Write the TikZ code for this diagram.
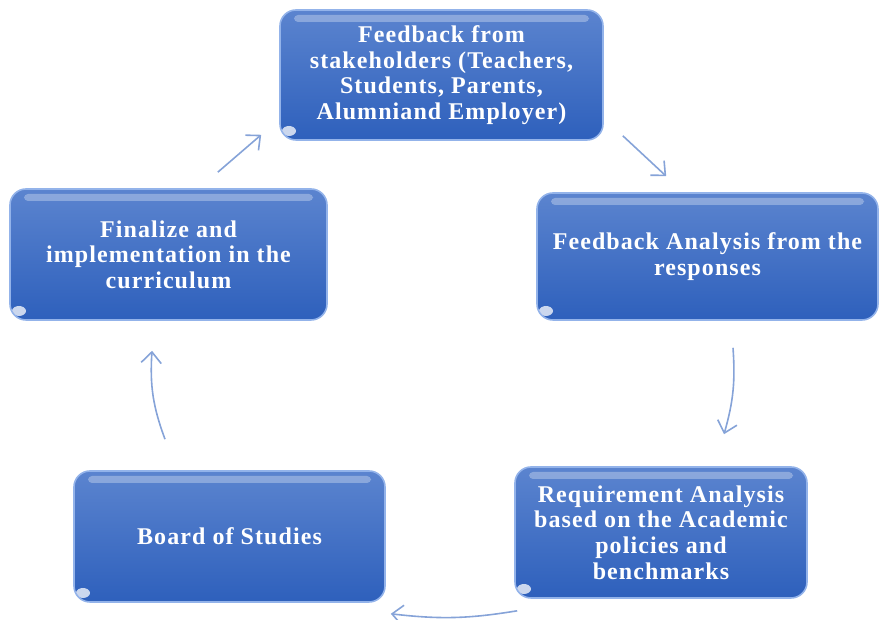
\documentclass[tikz,border=0pt]{standalone}
\usepackage{fontspec}
\setmainfont{Liberation Serif}
\usepackage{xcolor}
\usetikzlibrary{calc,arrows.meta}

\definecolor{boxtop}{HTML}{5B84CF}
\definecolor{boxbot}{HTML}{2E60BC}
\definecolor{boxrim}{HTML}{93B3EA}
\definecolor{arrowblue}{HTML}{86A3D8}

\tikzset{
  stepbox/.style={rounded corners=8pt, draw=boxrim, line width=0.8pt,
    top color=boxtop, bottom color=boxbot, text=white, align=center,
    font=\fontsize{12}{12.8}\selectfont\bfseries\addfontfeature{LetterSpace=4.5}, inner sep=2pt,
    path picture={
      \fill[white,opacity=0.3,rounded corners=2pt]
        ($(path picture bounding box.north west)+(7pt,-2.5pt)$) rectangle
        ($(path picture bounding box.north east)+(-7pt,-6pt)$);
      \fill[white,opacity=0.75]
        ($(path picture bounding box.south west)+(4.5pt,4.5pt)$) ellipse (3.5pt and 2.5pt);
    }},
  cycarrow/.style={draw=arrowblue, line width=0.8pt,
    -{Straight Barb[length=5.5pt,width=10pt]}}
}

\begin{document}
\begin{tikzpicture}[x=0.5pt,y=0.5pt]
    \useasboundingbox (0,0) rectangle (879,620);

    % Feedback from stakeholders
    \node[stepbox, minimum width=161.5pt, minimum height=65pt] (fb) at (441.5,545)
      {Feedback from\\stakeholders (Teachers,\\Students, Parents,\\Alumniand Employer)};

    % Feedback Analysis
    \node[stepbox, minimum width=170.5pt, minimum height=63.5pt] (fa) at (707.5,363.5)
      {Feedback Analysis from the\\responses};

    % Requirement Analysis
    \node[stepbox, minimum width=146pt, minimum height=65.5pt] (req) at (661,87.5)
      {Requirement Analysis\\based on the Academic\\policies and\\benchmarks};

    % Board of Studies
    \node[stepbox, minimum width=155.5pt, minimum height=65.5pt] (bos) at (229.5,83.5)
      {Board of Studies};

    % Finalize
    \node[stepbox, minimum width=158.5pt, minimum height=65.5pt] (fin) at (168.5,365.5)
      {Finalize and\\implementation in the\\curriculum};

    % Arrows
    \draw[cycarrow] ([shift={(19,5)}]fb.south east) -- ([shift={(130,16)}]fa.north west);
    \draw[cycarrow] ([shift={(25.5,-27)}]fa.south) to[bend left=10] ([shift={(63,32)}]req.north);
    \draw[cycarrow] ([shift={(3,-12)}]req.south west) to[bend left=8] ([shift={(5,-11)}]bos.south east);
    \draw[cycarrow] ([shift={(-64.5,31)}]bos.north) to[bend left=12] ([shift={(-16.5,-30)}]fin.south);
    \draw[cycarrow] ([shift={(-110,16)}]fin.north east) -- ([shift={(-18,6)}]fb.south west);
\end{tikzpicture}
\end{document}
